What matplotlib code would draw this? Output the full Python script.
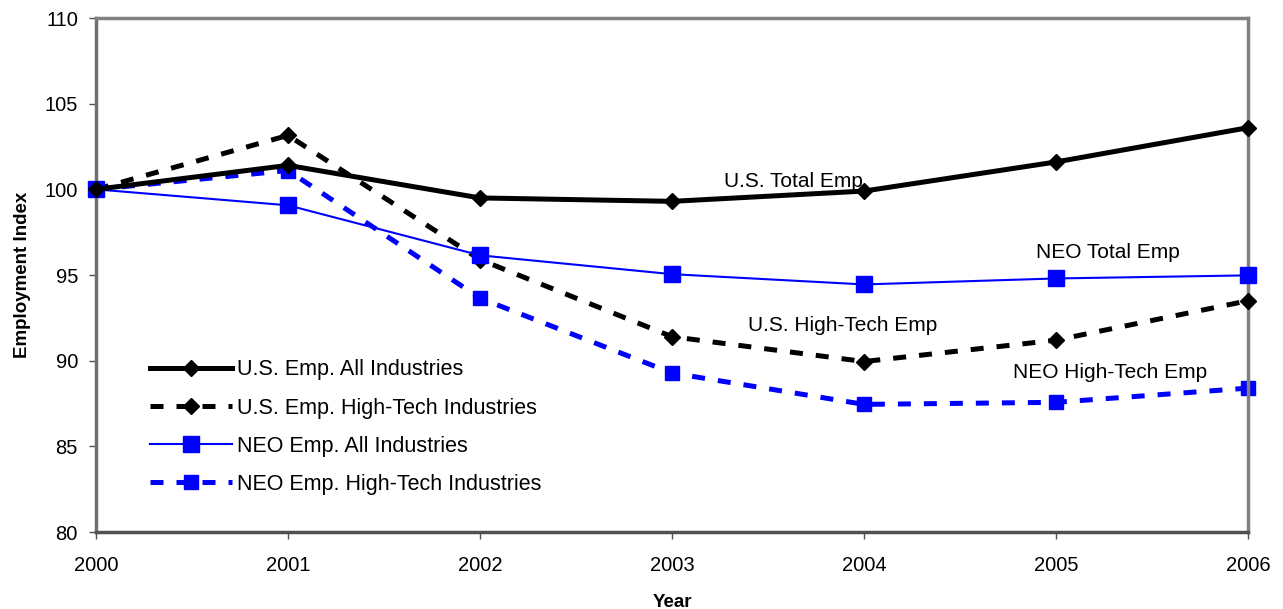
import matplotlib
matplotlib.use("Agg")
import matplotlib.pyplot as plt

years = [2000, 2001, 2002, 2003, 2004, 2005, 2006]
us_all = [100.0, 101.4, 99.5, 99.3, 99.9, 101.6, 103.6]
us_ht = [100.0, 103.15, 95.9, 91.4, 89.95, 91.2, 93.5]
neo_all = [100.0, 99.07, 96.15, 95.05, 94.45, 94.8, 94.98]
neo_ht = [100.0, 101.1, 93.65, 89.28, 87.45, 87.57, 88.4]

labels = ["U.S. Emp. All Industries", "U.S. Emp. High-Tech Industries",
          "NEO Emp. All Industries", "NEO Emp. High-Tech Industries"]

plt.rcParams['font.family'] = ['Liberation Sans', 'DejaVu Sans']

fig = plt.figure(figsize=(12.83, 6.09), dpi=100)
ax = fig.add_axes([0.0748, 0.1264, 0.898, 0.844])

ax.plot(years, us_all, color='black', lw=3.6, marker='D', ms=8, label=labels[0], zorder=4, clip_on=False)
ax.plot(years, us_ht, color='black', lw=3.6, ls=(0, (2.6, 2.6)), marker='D', ms=8, label=labels[1], zorder=3, clip_on=False)
ax.plot(years, neo_all, color='#0000FF', lw=1.5, marker='s', ms=11, label=labels[2], zorder=3, clip_on=False)
ax.plot(years, neo_ht, color='#0000FF', lw=3.6, ls=(0, (2.6, 2.6)), marker='s', ms=10, label=labels[3], zorder=2, clip_on=False)

ax.set_xlim(2000, 2006)
ax.set_ylim(80, 110)
ax.set_xticks(years)
ax.set_yticks(range(80, 111, 5))
ax.tick_params(axis='both', labelsize=14.5, direction='out', length=5, width=1, color='#505050')
ax.tick_params(axis='x', pad=12)
ax.tick_params(axis='y', pad=8)

for s in ['top', 'right']:
    ax.spines[s].set_color('#808080')
    ax.spines[s].set_linewidth(2.5)
ax.spines['left'].set_color('#707070')
ax.spines['left'].set_linewidth(2.5)
ax.spines['bottom'].set_color('#505050')
ax.spines['bottom'].set_linewidth(2.5)

ax.set_xlabel('Year', fontsize=13.5, fontweight='bold', labelpad=14)
ax.set_ylabel('Employment Index', fontsize=13.5, fontweight='bold', labelpad=10)

ax.text(2003.63, 100.47, 'U.S. Total Emp', ha='center', va='center', fontsize=15)
ax.text(2005.27, 96.3, 'NEO Total Emp', ha='center', va='center', fontsize=15)
ax.text(2003.89, 92.06, 'U.S. High-Tech Emp', ha='center', va='center', fontsize=15)
ax.text(2005.28, 89.3, 'NEO High-Tech Emp', ha='center', va='center', fontsize=15)

leg = ax.legend(loc='upper left', bbox_to_anchor=(0.047, 0.336), frameon=False,
                fontsize=15.5, handlelength=3.8, handletextpad=0.23, labelspacing=0.80,
                borderaxespad=0, borderpad=0)

fig.savefig('out.png', dpi=100)
